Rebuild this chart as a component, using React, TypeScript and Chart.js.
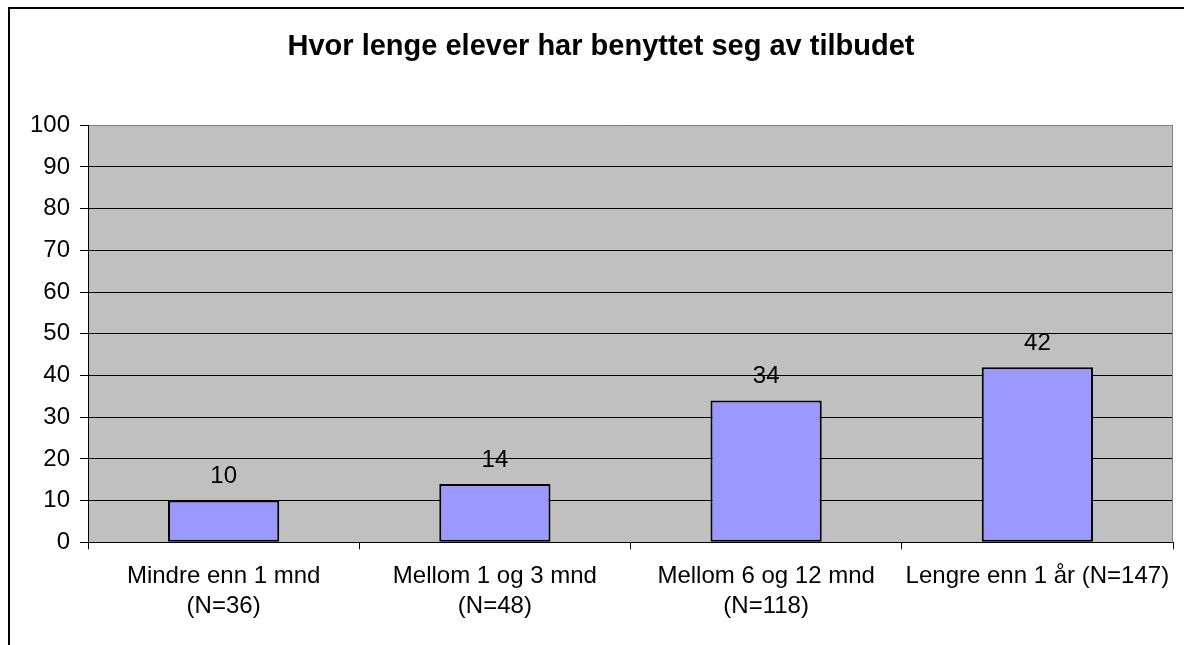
import React, { useEffect, useRef } from "react";
import { Chart, registerables } from "chart.js";

Chart.register(...registerables);

const titleText = "Hvor lenge elever har benyttet seg av tilbudet";
const categories: (string | string[])[] = [
  ["Mindre enn 1 mnd", "(N=36)"],
  ["Mellom 1 og 3 mnd", "(N=48)"],
  ["Mellom 6 og 12 mnd", "(N=118)"],
  "Lengre enn 1 år (N=147)",
];
const values = [10, 14, 34, 42];
const yMin = 0;
const yMax = 100;
const yStep = 10;

const FONT = "'Liberation Sans', Arial, Helvetica, sans-serif";

const framePlugin = {
  id: "frameAndPlot",
  beforeDraw(chart: any) {
    const { ctx, chartArea } = chart;
    ctx.save();
    ctx.fillStyle = "#ffffff";
    ctx.fillRect(0, 0, chart.width, chart.height);
    ctx.fillStyle = "#000000";
    ctx.fillRect(8, 7, 2, chart.height);
    ctx.fillRect(8, 7, chart.width, 2);
    ctx.fillStyle = "#C0C0C0";
    ctx.fillRect(
      chartArea.left,
      chartArea.top,
      chartArea.right - chartArea.left,
      chartArea.bottom - chartArea.top
    );
    ctx.restore();
  },
  beforeDatasetsDraw(chart: any) {
    const { ctx, chartArea } = chart;
    ctx.save();
    ctx.strokeStyle = "#808080";
    ctx.lineWidth = 1;
    const t = Math.round(chartArea.top) + 0.5;
    const r = Math.round(chartArea.right) - 0.5;
    ctx.beginPath();
    ctx.moveTo(chartArea.left + 1, t);
    ctx.lineTo(r, t);
    ctx.lineTo(r, chartArea.bottom);
    ctx.stroke();
    ctx.restore();
  },
  afterDatasetsDraw(chart: any) {
    const { ctx } = chart;
    const meta = chart.getDatasetMeta(0);
    ctx.save();
    ctx.fillStyle = "#000000";
    ctx.font = `24px ${FONT}`;
    ctx.textAlign = "center";
    ctx.textBaseline = "middle";
    meta.data.forEach((bar: any, i: number) => {
      ctx.fillText(String(values[i]), bar.x, bar.y - 24);
    });
    ctx.restore();
  },
};

export default function App() {
  const ref = useRef<HTMLCanvasElement | null>(null);

  useEffect(() => {
    if (!ref.current) return;
    const chart = new Chart(ref.current, {
      type: "bar",
      data: {
        labels: categories,
        datasets: [
          {
            data: values,
            backgroundColor: "#9999FF",
            borderColor: "#000000",
            borderWidth: 2,
            borderSkipped: false,
            barPercentage: 0.41,
            categoryPercentage: 1,
          },
        ],
      },
      options: {
        responsive: false,
        animation: false,
        devicePixelRatio: 1,
        layout: { padding: { left: 29, right: 11, top: 0, bottom: 0 } },
        plugins: {
          legend: { display: false },
          tooltip: { enabled: false },
          title: {
            display: true,
            text: titleText,
            color: "#000000",
            font: { family: FONT, size: 29, weight: "bold", lineHeight: 1.2 },
            padding: { top: 29.6, bottom: 60.9 },
          },
        },
        scales: {
          x: {
            grid: {
              display: true,
              offset: true,
              drawOnChartArea: false,
              drawTicks: true,
              tickLength: 7,
              color: "#000000",
            },
            border: { display: true, color: "#000000", width: 1 },
            ticks: {
              color: "#000000",
              font: { family: FONT, size: 24, lineHeight: 1.25 },
              padding: 12,
              maxRotation: 0,
              minRotation: 0,
              autoSkip: false,
            },
            afterFit(scale: any) {
              scale.height = 102.7;
            },
          },
          y: {
            min: yMin,
            max: yMax,
            grid: {
              color: "#000000",
              lineWidth: 1,
              drawTicks: true,
              tickLength: 8,
            },
            border: { display: true, color: "#000000", width: 1 },
            ticks: {
              stepSize: yStep,
              color: "#000000",
              font: { family: FONT, size: 24 },
              padding: 10,
            },
            afterFit(scale: any) {
              scale.width = 59;
            },
          },
        },
      },
      plugins: [framePlugin],
    });
    return () => chart.destroy();
  }, []);

  return (
    <div style={{ position: "fixed", left: 0, top: 0, width: 1184, height: 645 }}>
      <canvas ref={ref} width={1184} height={645} style={{ display: "block" }} />
    </div>
  );
}
